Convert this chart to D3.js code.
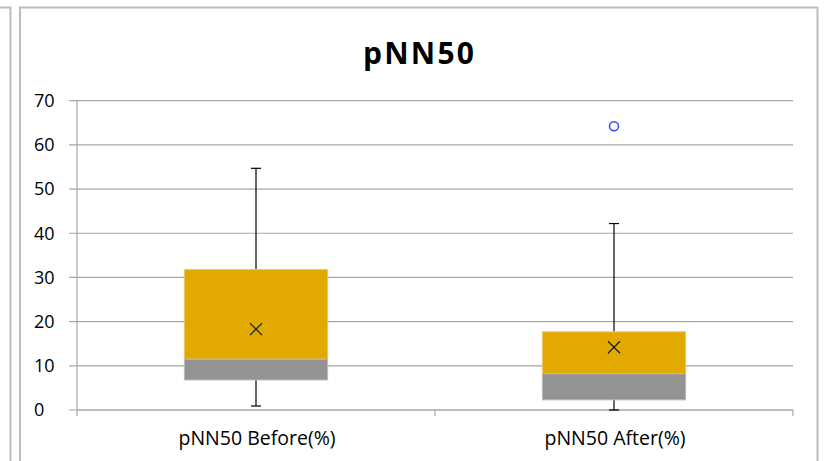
<!DOCTYPE html>
<html>
<head>
<meta charset="utf-8">
<script src="https://cdn.jsdelivr.net/npm/d3@7"></script>
<style>
  html, body { margin: 0; padding: 0; background: #fff; }
  svg { display: block; }
</style>
</head>
<body>
<svg id="chart" width="831" height="461"></svg>
<script>
const categories = ["pNN50 Before(%)", "pNN50 After(%)"];
const minValues = [0.9, 0];
const q1Values = [6.8, 2.3];
const medianValues = [11.5, 8.2];
const q3Values = [31.8, 17.7];
const maxValues = [54.7, 42.2];
const meanValues = [18.3, 14.2];
const outlierValues = [[], [64.2]];
const yTicks = [0, 10, 20, 30, 40, 50, 60, 70];
const title = "pNN50";

const svg = d3.select("#chart");
const fontFam = "'Open Sans', 'Noto Sans', 'Liberation Sans', sans-serif";

// outer frames
svg.append("path")
  .attr("d", "M0,7.5H10.5V461")
  .attr("fill", "none").attr("stroke", "#bdbdbd").attr("stroke-width", 2);
svg.append("path")
  .attr("d", "M20,461V7.5H817.5V461")
  .attr("fill", "none").attr("stroke", "#bdbdbd").attr("stroke-width", 2);

const plot = { left: 77, right: 793, top: 100.7, bottom: 410 };

const x = d3.scaleBand().domain(categories).range([plot.left, plot.right]).padding(0);
const y = d3.scaleLinear().domain([0, 70]).range([plot.bottom, plot.top]);

// title
svg.append("text")
  .attr("x", 418.5).attr("y", 63.5)
  .attr("text-anchor", "middle")
  .attr("font-family", fontFam)
  .attr("font-weight", "bold")
  .attr("font-size", 30)
  .attr("textLength", 111)
  .attr("lengthAdjust", "spacing")
  .attr("fill", "#000")
  .text(title);

// gridlines + y labels
svg.append("g").selectAll("line").data(yTicks).join("line")
  .attr("x1", plot.left - 8).attr("x2", plot.right)
  .attr("y1", d => y(d)).attr("y2", d => y(d))
  .attr("stroke", "#a6a6a6").attr("stroke-width", 1.2);

svg.append("g").selectAll("text").data(yTicks).join("text")
  .attr("x", 34).attr("y", d => y(d) + 6.3)
  .attr("text-anchor", "start")
  .attr("font-family", fontFam)
  .attr("font-size", 18)
  .attr("fill", "#000")
  .text(d => d);

// y axis line
svg.append("line")
  .attr("x1", plot.left).attr("x2", plot.left)
  .attr("y1", plot.top).attr("y2", plot.bottom)
  .attr("stroke", "#a6a6a6").attr("stroke-width", 1.2);

// x axis line and ticks
svg.append("line")
  .attr("x1", plot.left).attr("x2", plot.right)
  .attr("y1", plot.bottom).attr("y2", plot.bottom)
  .attr("stroke", "#a6a6a6").attr("stroke-width", 1.2);
const xTickPos = [plot.left, ...categories.slice(1).map(c => x(c)), plot.right];
svg.append("g").selectAll("line").data(xTickPos).join("line")
  .attr("x1", d => d).attr("x2", d => d)
  .attr("y1", plot.bottom).attr("y2", plot.bottom + 6)
  .attr("stroke", "#a6a6a6").attr("stroke-width", 1.2);

// category labels
svg.append("g").selectAll("text").data(categories).join("text")
  .attr("x", d => x(d) + x.bandwidth() / 2 + 1)
  .attr("y", 445)
  .attr("text-anchor", "middle")
  .attr("font-family", fontFam)
  .attr("font-size", 19.5)
  .attr("fill", "#000")
  .text(d => d);

// boxes
const boxW = x.bandwidth() * 0.4;
const data = categories.map((c, i) => ({
  c, min: minValues[i], q1: q1Values[i], med: medianValues[i], q3: q3Values[i],
  max: maxValues[i], mean: meanValues[i], out: outlierValues[i]
}));

const g = svg.append("g");
data.forEach(d => {
  const cx = x(d.c) + x.bandwidth() / 2;
  g.append("line").attr("x1", cx).attr("x2", cx)
    .attr("y1", y(d.q3)).attr("y2", y(d.max))
    .attr("stroke", "#000").attr("stroke-width", 1.2);
  g.append("line").attr("x1", cx - 5).attr("x2", cx + 5)
    .attr("y1", y(d.max)).attr("y2", y(d.max))
    .attr("stroke", "#000").attr("stroke-width", 1.2);
  g.append("line").attr("x1", cx).attr("x2", cx)
    .attr("y1", y(d.q1)).attr("y2", y(d.min))
    .attr("stroke", "#000").attr("stroke-width", 1.2);
  g.append("line").attr("x1", cx - 5).attr("x2", cx + 5)
    .attr("y1", y(d.min)).attr("y2", y(d.min))
    .attr("stroke", "#000").attr("stroke-width", 1.2);
  g.append("rect")
    .attr("x", cx - boxW / 2).attr("width", boxW)
    .attr("y", y(d.q3)).attr("height", y(d.med) - y(d.q3))
    .attr("fill", "#e2aa00").attr("stroke", "#ecc766").attr("stroke-width", 1);
  g.append("rect")
    .attr("x", cx - boxW / 2).attr("width", boxW)
    .attr("y", y(d.med)).attr("height", y(d.q1) - y(d.med))
    .attr("fill", "#939393").attr("stroke", "#b8b8b8").attr("stroke-width", 1);
  const my = y(d.mean), s = 6;
  g.append("path")
    .attr("d", `M${cx - s},${my - s}L${cx + s},${my + s}M${cx - s},${my + s}L${cx + s},${my - s}`)
    .attr("stroke", "#1a1a1a").attr("stroke-width", 1.2).attr("fill", "none");
  d.out.forEach(o => {
    g.append("circle").attr("cx", cx).attr("cy", y(o)).attr("r", 4.5)
      .attr("fill", "none").attr("stroke", "#3d3dff").attr("stroke-width", 1.5);
  });
});
</script>
</body>
</html>
